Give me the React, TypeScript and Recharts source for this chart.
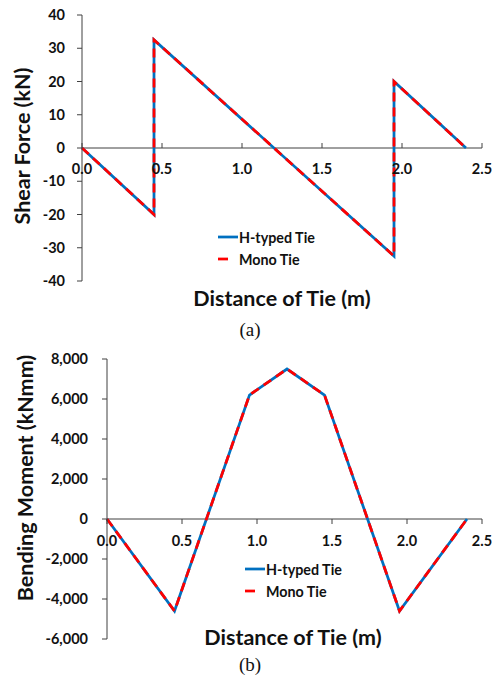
import React from 'react';
import { LineChart, Line, XAxis, YAxis, ReferenceLine, ReferenceDot, Legend } from 'recharts';

// shear force along the tie (kN)
const shearDistance = [0, 0.45, 0.45, 1.95, 1.95, 2.4];
const shearHTyped = [0, -20, 32.5, -32.5, 20, 0];
const shearMono = [0, -20, 32.5, -32.5, 20, 0];

// bending moment along the tie (kNmm)
const momentDistance = [0, 0.45, 0.95, 1.2, 1.45, 1.95, 2.4];
const momentHTyped = [0, -4600, 6200, 7500, 6200, -4600, 0];
const momentMono = [0, -4600, 6200, 7500, 6200, -4600, 0];

const distanceTicks = [0, 0.5, 1, 1.5, 2, 2.5];
const shearTicks = [-40, -30, -20, -10, 0, 10, 20, 30, 40];
const momentTicks = [-6000, -4000, -2000, 0, 2000, 4000, 6000, 8000];

const seriesNames = ['H-typed Tie', 'Mono Tie'];

const FONT = 'Lato, "Open Sans", sans-serif';
const AXIS = '#404040';
const TEXT = '#111';
const BLUE = '#0070C0';
const RED = '#FF0000';

const shearData = shearDistance.map((x, i) => ({ x, hTyped: shearHTyped[i], mono: shearMono[i] }));
const momentData = momentDistance.map((x, i) => ({ x, hTyped: momentHTyped[i], mono: momentMono[i] }));

// x axis drawn along y = 0, ticks + labels placed through the chart scales
const zeroTick = (label: string, up: boolean, gap: number) => (props: any) => {
  const { cx, cy } = props;
  return (
    <g>
      <line x1={cx} x2={cx} y1={cy} y2={up ? cy - 5 : cy + 5} stroke={AXIS} strokeWidth={1} />
      <text x={cx} y={cy + gap} dy="0.71em" textAnchor="middle" fontFamily={FONT} fontWeight={700} fontSize={14.5} fill={TEXT}>
        {label}
      </text>
    </g>
  );
};

const LegendBox = (props: any) => {
  const items = props.payload || [];
  return (
    <div style={{ fontFamily: FONT, fontWeight: 700, fontSize: 14.3, color: TEXT }}>
      {items.map((it: any, i: number) => (
        <div key={i} style={{ display: 'flex', alignItems: 'center', height: 22 }}>
          <svg width={20} height={6} style={{ marginRight: 1 }}>
            <line x1={0} x2={20} y1={3} y2={3} stroke={it.color} strokeWidth={2.75}
              strokeDasharray={i === 1 ? '10 12' : undefined} />
          </svg>
          <span>{it.value}</span>
        </div>
      ))}
    </div>
  );
};

const tickStyle = { fontFamily: FONT, fontWeight: 700, fontSize: 14.5, fill: TEXT };

const titleStyle: React.CSSProperties = {
  position: 'absolute',
  fontFamily: FONT,
  fontWeight: 700,
  fontSize: 21.5,
  color: TEXT,
  whiteSpace: 'nowrap',
  transform: 'translate(-50%, -50%)',
};

const capStyle: React.CSSProperties = {
  position: 'absolute',
  fontFamily: '"Liberation Serif", "DejaVu Serif", serif',
  fontSize: 19,
  color: TEXT,
  transform: 'translate(-50%, -50%)',
};

const App: React.FC = () => {
  return (
    <div style={{ position: 'absolute', left: 0, top: 0, width: 499, height: 678, background: '#fff' }}>
      <div style={{ position: 'absolute', left: 0, top: 0 }}>
        <LineChart width={499} height={300} data={shearData} margin={{ top: 15, right: 17, bottom: 19, left: 0 }}>
          <XAxis type="number" dataKey="x" domain={[0, 2.5]} ticks={distanceTicks} hide height={0} />
          <YAxis type="number" domain={[-40, 40]} ticks={shearTicks} interval={0} width={82}
            tickSize={5} tickMargin={12} tick={tickStyle}
            axisLine={{ stroke: AXIS }} tickLine={{ stroke: AXIS }} />
          <ReferenceLine y={0} stroke={AXIS} strokeWidth={1} />
          {distanceTicks.map((t) => (
            <ReferenceDot key={t} x={t} y={0} r={0} shape={zeroTick(t.toFixed(1), true, 16)} />
          ))}
          <Line type="linear" dataKey="hTyped" name={seriesNames[0]} stroke={BLUE} strokeWidth={2.75} dot={false} isAnimationActive={false} />
          <Line type="linear" dataKey="mono" name={seriesNames[1]} stroke={RED} strokeWidth={2.75} strokeDasharray="9 6" dot={false} isAnimationActive={false} />
          <Legend layout="vertical" align="center" verticalAlign="middle" content={LegendBox}
            wrapperStyle={{ left: 218, top: 226, width: 130 }} />
        </LineChart>
      </div>
      <div style={{ ...titleStyle, left: 22, top: 146, transform: 'translate(-50%, -50%) rotate(-90deg)' }}>Shear Force (kN)</div>
      <div style={{ ...titleStyle, left: 282, top: 298 }}>Distance of Tie (m)</div>
      <div style={{ ...capStyle, left: 250, top: 330 }}>(a)</div>

      <div style={{ position: 'absolute', left: 0, top: 340 }}>
        <LineChart width={499} height={320} data={momentData} margin={{ top: 19, right: 17, bottom: 21, left: 0 }}>
          <XAxis type="number" dataKey="x" domain={[0, 2.5]} ticks={distanceTicks} hide height={0} />
          <YAxis type="number" domain={[-6000, 8000]} ticks={momentTicks} interval={0} width={107}
            tickSize={5} tickMargin={14} tick={tickStyle}
            tickFormatter={(v: number) => v.toLocaleString('en-US')}
            axisLine={{ stroke: AXIS }} tickLine={{ stroke: AXIS }} />
          <ReferenceLine y={0} stroke={AXIS} strokeWidth={1} />
          {distanceTicks.map((t) => (
            <ReferenceDot key={t} x={t} y={0} r={0} shape={zeroTick(t.toFixed(1), false, 17)} />
          ))}
          <Line type="linear" dataKey="hTyped" name={seriesNames[0]} stroke={BLUE} strokeWidth={2.75} dot={false} isAnimationActive={false} />
          <Line type="linear" dataKey="mono" name={seriesNames[1]} stroke={RED} strokeWidth={2.75} strokeDasharray="9 6" dot={false} isAnimationActive={false} />
          <Legend layout="vertical" align="center" verticalAlign="middle" content={LegendBox}
            wrapperStyle={{ left: 245, top: 218, width: 130 }} />
        </LineChart>
      </div>
      <div style={{ ...titleStyle, left: 25, top: 478, transform: 'translate(-50%, -50%) rotate(-90deg)' }}>Bending Moment (kNmm)</div>
      <div style={{ ...titleStyle, left: 293, top: 637 }}>Distance of Tie (m)</div>
      <div style={{ ...capStyle, left: 250, top: 665 }}>(b)</div>
    </div>
  );
};

export default App;
